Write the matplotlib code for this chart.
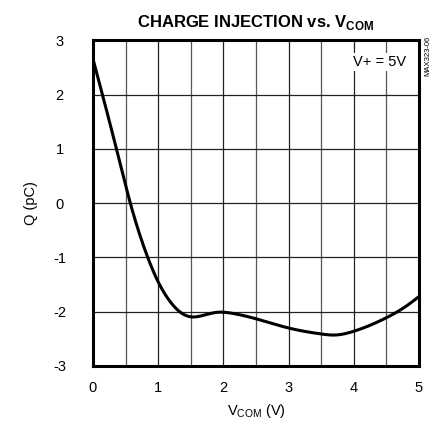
import matplotlib
matplotlib.use("Agg")
import matplotlib.pyplot as plt
import numpy as np

plt.rcParams['font.family'] = ['Liberation Sans', 'DejaVu Sans']
plt.rcParams['mathtext.fontset'] = 'custom'
plt.rcParams['mathtext.rm'] = 'Liberation Sans'
plt.rcParams['mathtext.bf'] = 'Liberation Sans:bold'
plt.rcParams['axes.unicode_minus'] = False

# Data
vcom = [0.0, 0.36, 0.573, 0.84, 1.0, 1.175, 1.33, 1.48, 1.68, 1.91, 2.14,
        2.5, 3.0, 3.5, 3.7, 4.0, 4.5, 4.8, 5.0]
q = [2.66, 1.0, 0.0, -1.0, -1.45, -1.80, -2.0, -2.09, -2.07, -2.01, -2.03,
     -2.13, -2.3, -2.41, -2.43, -2.36, -2.11, -1.9, -1.72]

xticks = [0, 1, 2, 3, 4, 5]
yticks = [-3, -2, -1, 0, 1, 2, 3]


def natural_spline(x, y, xn):
    x = np.asarray(x, float); y = np.asarray(y, float)
    n = len(x)
    h = np.diff(x)
    A = np.zeros((n, n)); b = np.zeros(n)
    A[0, 0] = 1; A[-1, -1] = 1
    for i in range(1, n - 1):
        A[i, i - 1] = h[i - 1]
        A[i, i] = 2 * (h[i - 1] + h[i])
        A[i, i + 1] = h[i]
        b[i] = 3 * ((y[i + 1] - y[i]) / h[i] - (y[i] - y[i - 1]) / h[i - 1])
    c = np.linalg.solve(A, b)
    out = np.empty_like(xn)
    for k, xv in enumerate(xn):
        i = min(max(np.searchsorted(x, xv) - 1, 0), n - 2)
        d = xv - x[i]
        bi = (y[i + 1] - y[i]) / h[i] - h[i] * (2 * c[i] + c[i + 1]) / 3
        di = (c[i + 1] - c[i]) / (3 * h[i])
        out[k] = y[i] + bi * d + c[i] * d ** 2 + di * d ** 3
    return out


fig = plt.figure(figsize=(4.38, 4.28), dpi=100)
ax = fig.add_axes([0.2123, 0.1449, 0.7443, 0.7605])

sx = np.linspace(vcom[0], vcom[-1], 600)
sy = natural_spline(vcom, q, sx)
ax.plot(sx, sy, color='black', lw=2.2, solid_capstyle='butt', zorder=3)

ax.set_xlim(0, 5)
ax.set_ylim(-3, 3)
ax.set_xticks(xticks)
ax.set_yticks(yticks)
ax.set_xticks(np.arange(0.5, 5, 1.0), minor=True)
ax.grid(True, which='major', color='#222222', lw=0.9)
ax.grid(True, which='minor', axis='x', color='#555555', lw=0.9)
ax.tick_params(which='both', length=0, labelsize=10.5, pad=11)
ax.tick_params(axis='y', pad=24)
for lbl in ax.get_yticklabels():
    lbl.set_horizontalalignment('center')
for s in ax.spines.values():
    s.set_linewidth(2.2)
    s.set_zorder(4)

ax.set_xlabel(r"V$_{\mathregular{COM}}$ (V)", fontsize=10.5, labelpad=5)
ax.set_ylabel("Q (pC)", fontsize=10.5, labelpad=11)
ax.set_title(r"CHARGE INJECTION vs. V$_{\mathbf{COM}}$", fontsize=12, fontweight='bold', pad=10)

ax.text(0.96, 0.935, "V+ = 5V", transform=ax.transAxes, ha='right', va='center',
        fontsize=10.5, bbox=dict(facecolor='white', edgecolor='none', pad=1.5), zorder=5)
fig.text(0.977, 0.869, "MAX323-06", rotation=90, ha='center', va='center', fontsize=5.5)

fig.savefig("out.png", dpi=100)
